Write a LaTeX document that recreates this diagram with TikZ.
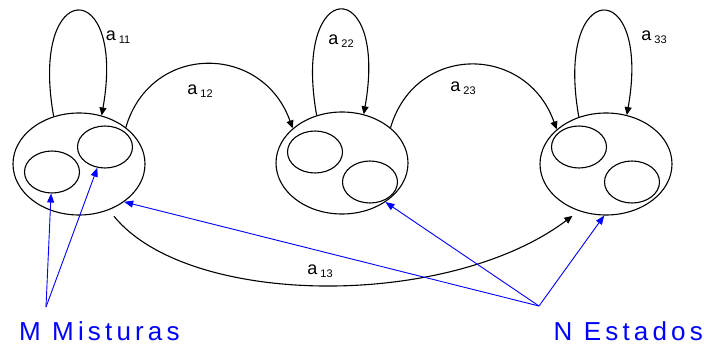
\documentclass[tikz,border=0pt]{standalone}
\usepackage{fontspec}
\setmainfont{Liberation Sans}
\newfontfamily\widefont[LetterSpace=16]{Liberation Sans}
\usetikzlibrary{arrows.meta,shapes.geometric}
\newcommand{\alab}[1]{a\,\raisebox{-0.35ex}{\fontsize{11}{12}\selectfont #1}}

\begin{document}
\begin{tikzpicture}[x=1pt,y=1pt,state/.style={draw,ellipse,line width=1.1pt,minimum width=132pt,minimum height=102pt,inner sep=0pt},mix/.style={draw,ellipse,line width=1.1pt,minimum width=55pt,minimum height=42pt,inner sep=0pt},arr/.style={-{Triangle[length=8pt,width=7pt]},line width=1.1pt},barr/.style={-{Triangle[length=9pt,width=7pt]},blue,line width=0.9pt},lbl/.style={font=\fontsize{18}{20}\selectfont,inner sep=0pt},big/.style={font=\widefont\fontsize{26}{28}\selectfont,text=blue,inner sep=0pt}]
\useasboundingbox (0,0) rectangle (704,-345);
% estados
\node[state] (st1) at (79,-164) {};
\node[state] (st2) at (342,-163) {};
\node[state] (st3) at (606,-164) {};
% misturas
\node[mix] (mix11) at (52,-172) {};
\node[mix] (mix12) at (105,-147) {};
\node[mix] (mix21) at (315,-152) {};
\node[mix] (mix22) at (370,-182) {};
\node[mix] (mix31) at (579,-147) {};
\node[mix] (mix32) at (632,-182) {};
% transicoes
\draw[arr] (st1.118) .. controls +(-25,140) and +(25,140) .. (st1.65);
\draw[arr] (st2.118) .. controls +(-25,140) and +(25,140) .. (st2.66);
\draw[arr] (st3.120) .. controls +(-25,140) and +(25,140) .. (st3.67);
\draw[arr] (st1.38) .. controls +(25,85) and +(-30,85) .. (st2.145);
\draw[arr] (st2.36) .. controls +(25,85) and +(-30,85) .. (st3.145);
\draw[arr,shorten <=8pt,shorten >=8pt] (st1.-57) .. controls +(80,-98) and +(-130,-98) .. (st3.-120);
\node[lbl] (a11) at (118,-37) {\alab{11}};
\node[lbl] (a22) at (341,-41) {\alab{22}};
\node[lbl] (a33) at (654,-37) {\alab{33}};
\node[lbl] (a12) at (200,-91) {\alab{12}};
\node[lbl] (a23) at (463,-88) {\alab{23}};
\node[lbl] (a13) at (320,-271) {\alab{13}};
% legendas
\coordinate (mtip) at (46,-307);
\coordinate (ntip) at (539,-306);
\node[big,anchor=base west] (mlab) at (19,-340) {M Misturas};
\node[big,anchor=base east] (nlab) at (703,-340) {N Estados};
\draw[barr] (mtip) -- (mix11);
\draw[barr] (mtip) -- (mix12);
\draw[barr] (ntip) -- (st1.-40);
\draw[barr] (ntip) -- (st2.-42);
\draw[barr] (ntip) -- (st3.-92);
\end{tikzpicture}
\end{document}
